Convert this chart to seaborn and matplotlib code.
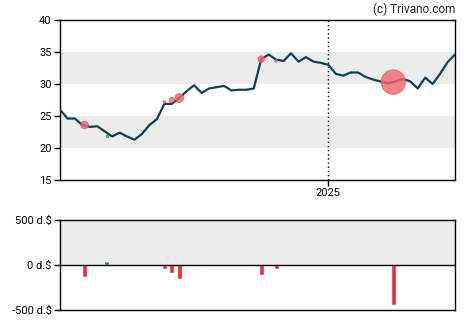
import matplotlib
matplotlib.use("Agg")
import matplotlib.pyplot as plt
import matplotlib.dates as mdates
import numpy as np
import pandas as pd
import seaborn as sns

# Weekly closing prices
dates = pd.date_range("2024-04-24", periods=54, freq="7D")
prices = [26.0, 24.6, 24.6, 23.6, 23.3, 23.4, 22.6, 21.8, 22.4, 21.8,
          21.3, 22.2, 23.6, 24.5, 26.9, 26.9, 27.8, 28.9, 29.8, 28.6,
          29.3, 29.5, 29.7, 29.0, 29.1, 29.1, 29.3, 33.9, 34.6, 33.8,
          33.6, 34.8, 33.5, 34.2, 33.5, 33.3, 33.0, 31.6, 31.3, 31.8,
          31.8, 31.1, 30.7, 30.4, 30.1, 30.4, 30.8, 30.4, 29.3, 31.0,
          30.0, 31.6, 33.4, 34.6]

# Insider transactions: date, trade price, net value (thousand $)
trade_dates = pd.to_datetime(["2024-05-17", "2024-06-07", "2024-07-31",
                              "2024-08-07", "2024-08-14", "2024-09-04",
                              "2024-10-30", "2024-11-13", "2025-03-03"])
trade_prices = [23.6, 21.9, 27.2, 27.5, 27.8, 28.9, 33.9, 33.6, 30.3]
trade_values = [-138, 48, -49, -93, -160, -15, -116, -49, -440]

price_ticks = [15, 20, 25, 30, 35, 40]
flow_ticks = [-500, 0, 500]
flow_labels = ["-500 d.$", "0 d.$", "500 d.$"]

sns.set_style("white")
plt.rcParams["font.family"] = ["Roboto", "DejaVu Sans"]

RED = "#f0283c"
GREEN = "#2e8b57"
LINE = "#123f5a"
BAND = "#ececec"

fig = plt.figure(figsize=(4.7, 3.25), dpi=100)
ax = fig.add_axes([60 / 470, 1 - 180 / 325, 395 / 470, 160 / 325])
ax2 = fig.add_axes([60 / 470, 1 - 310 / 325, 395 / 470, 90 / 325])

# --- price panel ---
ax.axhspan(20, 25, color=BAND, lw=0, zorder=0)
ax.axhspan(30, 35, color=BAND, lw=0, zorder=0)

df = pd.DataFrame({"date": dates, "price": prices})
sns.lineplot(data=df, x="date", y="price", ax=ax, color=LINE, lw=1.6, zorder=3)

tr = pd.DataFrame({"date": trade_dates, "price": trade_prices,
                   "value": trade_values})
tr["kind"] = np.where(tr["value"] > 0, "buy", "sell")
tr["size"] = (tr["value"].abs() / 25.0) ** 2
sell = tr[tr["kind"] == "sell"]
buy = tr[tr["kind"] == "buy"]
ax.scatter(sell["date"], sell["price"], s=sell["size"], color="#f06470",
           alpha=0.8, edgecolors="#f05060", linewidths=0.6, zorder=4)
ax.scatter(buy["date"], buy["price"], s=buy["size"], color="#4caf6a",
           alpha=0.9, edgecolors=GREEN, linewidths=0.6, zorder=4)

ax.set_xlim(dates[0], dates[-1])
ax.set_ylim(15, 40)
ax.set_yticks(price_ticks)
ax.set_xticks([pd.Timestamp("2025-01-01")])
ax.xaxis.set_major_formatter(mdates.DateFormatter("%Y"))
ax.axvline(pd.Timestamp("2025-01-01"), color="black", lw=1, ls=(0, (1, 2)),
           zorder=2)
ax.set_xlabel("")
ax.set_ylabel("")
for sp in ax.spines.values():
    sp.set_color("black")
    sp.set_linewidth(1)
ax.tick_params(axis="both", direction="out", length=4, width=1,
               labelsize=8, colors="black", left=True, bottom=True, pad=2)

fig.text(455 / 470, 1 - 9 / 325, "(c) Trivano.com", ha="right", va="center",
         fontsize=8.5, color="#222222")

# --- insider flow panel ---
ax2.axhspan(0, 500, color=BAND, lw=0, zorder=0)
bar_colors = [GREEN if v > 0 else RED for v in trade_values]
ax2.bar(trade_dates, trade_values, width=4.8, color=bar_colors, zorder=2)
ax2.axhline(0, color="black", lw=1, zorder=3)
ax2.set_xlim(dates[0], dates[-1])
ax2.set_ylim(-500, 500)
ax2.set_yticks(flow_ticks)
ax2.set_yticklabels(flow_labels)
ax2.set_xticks([])
for sp in ax2.spines.values():
    sp.set_color("black")
    sp.set_linewidth(1)
ax2.tick_params(axis="y", direction="out", length=4, width=1,
                labelsize=8, colors="black", left=True, pad=2)

fig.savefig("out.png", dpi=100)
